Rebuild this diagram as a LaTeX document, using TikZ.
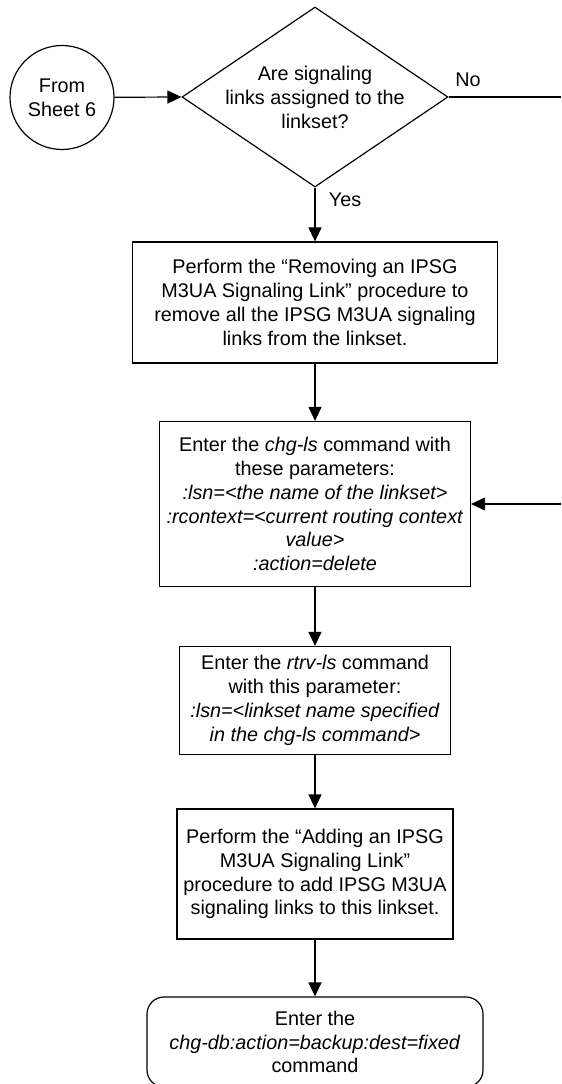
\documentclass[tikz,border=0pt]{standalone}
\usepackage{fontspec}
\setmainfont{Liberation Sans}
\usetikzlibrary{arrows.meta,shapes.geometric}
\begin{document}
\begin{tikzpicture}[x=0.75pt,y=-0.75pt,
  txt/.style={font=\fontsize{14.85}{17.9}\selectfont,align=center,inner sep=0pt},
  box/.style={txt,draw,line width=0.9pt,rectangle},
  startc/.style={txt,draw,line width=0.9pt,circle,minimum size=104*0.75pt},
  decision/.style={draw,line width=0.9pt,diamond,inner sep=0pt,minimum width=266*0.75pt,minimum height=180*0.75pt},
  term/.style={txt,draw,line width=0.9pt,rectangle,rounded corners=17*0.75pt},
  arr/.style={line width=0.9pt,-{Triangle[length=10.5pt,width=9.75pt]}},
  lin/.style={line width=0.9pt},
  lbl/.style={font=\fontsize{14.85}{17.9}\selectfont,inner sep=0pt}
]
\useasboundingbox (0,0) rectangle (561,1084);

\node[startc] (c) at (62,97.5) {From\\Sheet 6};
\node[decision] (d) at (315,97) {};
\node[txt] (dt) at (315,97.5) {Are signaling\\links assigned to the\\linkset?};

\node[box,minimum width=365*0.75pt,minimum height=121*0.75pt] (b1) at (315,302.5)
  {Perform the “Removing an IPSG\\M3UA Signaling Link” procedure to\\remove all the IPSG M3UA signaling\\links from the linkset.};

\node[box,minimum width=311*0.75pt,minimum height=165*0.75pt] (b2) at (315,504)
  {Enter the \textit{chg-ls} command with\\these parameters:\\\textit{:lsn=<the name of the linkset>}\\\textit{:rcontext=<current routing context}\\\textit{value>}\\\textit{:action=delete}};

\node[box,minimum width=271*0.75pt,minimum height=108*0.75pt] (b3) at (315,700.5)
  {Enter the \textit{rtrv-ls} command\\with this parameter:\\\textit{:lsn=<linkset name specified}\\\textit{in the chg-ls command>}};

\node[box,minimum width=276*0.75pt,minimum height=130*0.75pt] (b4) at (315,874)
  {Perform the “Adding an IPSG\\M3UA Signaling Link”\\procedure to add IPSG M3UA\\signaling links to this linkset.};

\node[term,minimum width=336*0.75pt,minimum height=90*0.75pt] (t) at (315,1042)
  {Enter the\\\textit{chg-db:action=backup:dest=fixed}\\command};

\coordinate (noend) at (561,97);
\coordinate (inr) at (561,504);

\draw[arr] (c) -- (d.west);
\draw[lin] (d.east) -- (noend);
\node[lbl] (nolbl) at (468,80) {No};
\draw[arr] (d.south) -- (b1.north);
\node[lbl] (yeslbl) at (345,200) {Yes};
\draw[arr] (b1) -- (b2);
\draw[arr] (inr) -- (b2.east);
\draw[arr] (b2) -- (b3);
\draw[arr] (b3) -- (b4);
\draw[arr] (b4) -- (t);
\end{tikzpicture}
\end{document}
